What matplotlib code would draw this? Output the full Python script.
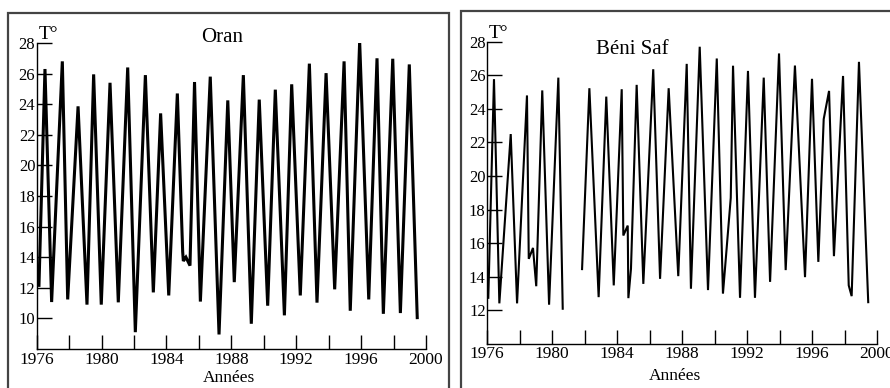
import numpy as np
import matplotlib
matplotlib.use("Agg")
import matplotlib.pyplot as plt
from matplotlib.patches import Rectangle

plt.rcParams['font.family'] = ['Liberation Serif', 'DejaVu Serif']

# Oran : températures (années décimales, °C)
oran_annee = [1976.14, 1976.51, 1976.92, 1977.58, 1977.91, 1978.55, 1979.10, 1979.51,
              1979.98, 1980.52, 1981.03, 1981.61, 1982.08, 1982.70, 1983.19, 1983.64,
              1984.14, 1984.67, 1985.00, 1985.04, 1985.20, 1985.45, 1985.73, 1986.09,
              1986.70, 1987.24, 1987.78, 1988.18, 1988.74, 1989.23, 1989.72, 1990.24,
              1990.71, 1991.27, 1991.72, 1992.25, 1992.81, 1993.28, 1993.84, 1994.37,
              1994.95, 1995.33, 1995.91, 1996.47, 1996.98, 1997.37, 1997.95, 1998.42,
              1998.97, 1999.46]
oran_temp = [12.16, 26.3, 11.07, 26.8, 11.24, 23.86, 10.9, 25.95,
             10.9, 25.4, 11.05, 26.4, 9.1, 25.9, 11.7, 23.4,
             11.5, 24.7, 14.35, 13.75, 14.0, 13.45, 25.45, 11.1,
             25.8, 8.95, 24.25, 12.37, 25.9, 9.65, 24.3, 10.83,
             24.95, 10.2, 25.3, 11.5, 26.65, 11.03, 26.03, 11.9,
             26.8, 10.5, 28.1, 11.24, 27.0, 10.3, 26.97, 10.35,
             26.6, 10.05]

# Béni Saf (lacune 1980-1981)
bs_annee = [1976.08, 1976.43, 1976.76, 1977.46, 1977.85, 1978.46, 1978.57, 1978.83,
            1979.03, 1979.40, 1979.82, 1980.39, 1980.66, 1981.2, 1981.85, 1982.30,
            1982.87, 1983.34, 1983.80, 1984.29, 1984.39, 1984.66, 1984.70, 1984.86,
            1985.21, 1985.62, 1986.23, 1986.65, 1987.18, 1987.77, 1988.29, 1988.55,
            1989.09, 1989.60, 1990.14, 1990.52, 1991.00, 1991.14, 1991.57, 1992.06,
            1992.49, 1993.03, 1993.42, 1993.97, 1994.38, 1994.95, 1995.57, 1996.00,
            1996.39, 1996.72, 1997.05, 1997.35, 1997.91, 1998.26, 1998.44, 1998.89,
            1999.46]
bs_temp = [12.75, 25.77, 12.42, 22.5, 12.42, 24.8, 15.07, 15.72,
           13.44, 25.1, 12.34, 25.86, 12.1, np.nan, 14.46, 25.23,
           12.79, 24.73, 13.49, 25.17, 16.46, 17.05, 12.73, 14.48,
           25.43, 13.58, 26.36, 13.88, 25.23, 14.04, 26.68, 13.29,
           27.7, 13.21, 27.0, 13.0, 18.7, 26.57, 12.75, 26.26,
           12.75, 25.86, 13.7, 27.3, 14.4, 26.58, 13.98, 25.79,
           14.89, 23.39, 25.07, 15.23, 25.96, 13.49, 12.85, 26.8,
           12.49]

annees_labels = [1976, 1980, 1984, 1988, 1992, 1996, 2000]

W, H = 890, 388
fig = plt.figure(figsize=(W / 100, H / 100), dpi=100)

# cadres
fig.patches.append(Rectangle((8 / W, -0.1), (449 - 8) / W, 1.1 - 13 / H,
                             transform=fig.transFigure, fill=False,
                             edgecolor='#444444', linewidth=1.6))
fig.patches.append(Rectangle((461.5 / W, -0.1), 0.6, 1.1 - 10.7 / H,
                             transform=fig.transFigure, fill=False,
                             edgecolor='#444444', linewidth=1.6))


def panneau(rect, x, y, ymin, yticks, lw, titre, titre_xy, xpad, annees_y):
    ax = fig.add_axes(rect)
    ax.plot(x, y, color='black', linewidth=lw, solid_joinstyle='miter')
    ax.set_xlim(1976, 2000)
    ax.set_ylim(ymin, 28)
    for s in ['top', 'right']:
        ax.spines[s].set_visible(False)
    for s in ['left', 'bottom']:
        ax.spines[s].set_linewidth(1.0)
    ax.set_yticks(yticks)
    ax.set_xticks(range(1976, 2001, 2))
    ax.set_xticklabels([str(a) if a in annees_labels else '' for a in range(1976, 2001, 2)])
    ax.tick_params(axis='y', direction='in', length=11, width=1.0, pad=1, labelsize=12)
    ax.tick_params(axis='x', direction='in', length=10, width=1.0, pad=xpad, labelsize=12.5)
    ax.text(0.005, 1.0, 'T°', transform=ax.transAxes, fontsize=14,
            ha='left', va='bottom')
    fig.text(titre_xy[0] / W, 1 - titre_xy[1] / H, titre, fontsize=15,
             ha='center', va='center')
    fig.text(annees_y[0] / W, 1 - annees_y[1] / H, 'Années', fontsize=12.5,
             ha='center', va='center')
    return ax


panneau([36.7 / W, (H - 349) / H, (426 - 36.7) / W, (349 - 43) / H],
        oran_annee, oran_temp, 8, range(10, 29, 2), 2.2, 'Oran', (222, 38), 2.5, (229, 378))
panneau([487 / W, (H - 344) / H, (877 - 487) / W, (344 - 41.7) / H],
        bs_annee, bs_temp, 10, range(12, 29, 2), 1.5, 'Béni Saf', (632, 49), 1.5, (675, 376))

fig.savefig('out.png', dpi=100)
